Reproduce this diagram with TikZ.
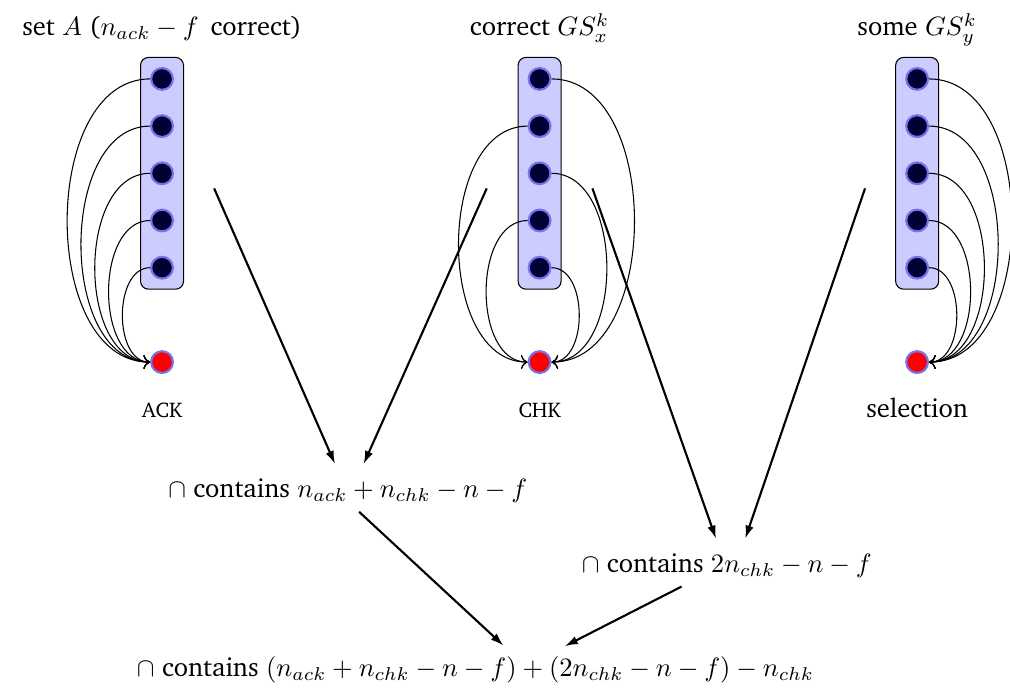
\documentclass[tikz,border=0pt]{standalone}
\usepackage[T1]{fontenc}
\usepackage{charter}
\usepackage{tikz}
\usetikzlibrary{positioning,arrows.meta,fit,backgrounds,calc}
\definecolor{procfill}{HTML}{CCCCFF}
\definecolor{procdark}{HTML}{000033}
\definecolor{procring}{HTML}{7373F0}

\begin{document}
\begin{tikzpicture}[
    proc/.style={circle, draw=procring, fill=procdark, line width=0.8pt, minimum size=8.2pt, inner sep=0pt},
    sink/.style={proc, fill=red},
    group/.style={draw, rounded corners=3pt, fill=procfill, inner sep=3.6pt},
    msg/.style={->, thin},
    flow/.style={-{Latex[length=5pt,width=3.2pt]}, thick, shorten >=2pt},
  ]
  \useasboundingbox (-2.146,-4.424) rectangle (11.23,4.795);

  % processes and their sinks
  \foreach \g/\x in {a/0,c/5,s/10} {
    \foreach \k in {1,...,5}
      \node[proc] (\g\k) at (\x,{4.375-0.625*\k}) {};
    \node[sink] (\g0) at (\x,0) {};
  }
  \begin{scope}[on background layer]
    \node[group, fit=(a1)(a5)] (ga) {};
    \node[group, fit=(c1)(c5)] (gc) {};
    \node[group, fit=(s1)(s5)] (gs) {};
  \end{scope}

  % group titles
  \node[anchor=base] (ta) at (0,4.32) {set $A$ ($n_{ack}-f$\, correct)};
  \node[anchor=base] (tc) at (5,4.32) {correct $GS_x^k$};
  \node[anchor=base] (ts) at (10,4.32) {some $GS_y^k$};

  \node[anchor=base, font=\footnotesize] (la) at (0,-0.73) {ACK};
  \node[anchor=base, font=\footnotesize] (lc) at (5,-0.73) {CHK};
  \node[anchor=base] (ls) at (10,-0.73) {selection};

  % messages
  \foreach \k in {1,...,5}
    \draw[msg] (a\k) to[out=180,in=180] (a0);
  \foreach \k in {2,4}
    \draw[msg] (c\k) to[out=180,in=180] (c0);
  \foreach \k in {1,3,5}
    \draw[msg] (c\k) to[out=0,in=0] (c0);
  \foreach \k in {1,...,5}
    \draw[msg] (s\k) to[out=0,in=0] (s0);

  % intersections
  \node (i1) at (2.46,-1.70) {$\cap$ contains $n_{ack}+n_{chk}-n-f$};
  \node (i2) at (7.48,-2.69) {$\cap$ contains $2n_{chk}-n-f$};
  \node (i3) at (4.15,-4.08) {$\cap$ contains $(n_{ack}+n_{chk}-n-f)+(2n_{chk}-n-f)-n_{chk}$};

  \coordinate (fa) at (0.69,2.30);
  \coordinate (fc1) at (4.30,2.30);
  \coordinate (fc2) at (5.70,2.30);
  \coordinate (fs) at (9.31,2.30);
  \draw[flow] (fa) -- ([xshift=-0.14cm]i1.north);
  \draw[flow] (fc1) -- ([xshift=0.18cm]i1.north);
  \draw[flow] (fc2) -- ([xshift=-0.12cm]i2.north);
  \draw[flow] (fs) -- ([xshift=0.22cm]i2.north);
  \draw[flow, shorten >=1pt] ([xshift=0.15cm]i1.south) -- ([xshift=0.4cm]i3.north);
  \draw[flow, shorten >=1pt] ([xshift=-0.6cm]i2.south) -- ([xshift=1.15cm]i3.north);
\end{tikzpicture}
\end{document}
